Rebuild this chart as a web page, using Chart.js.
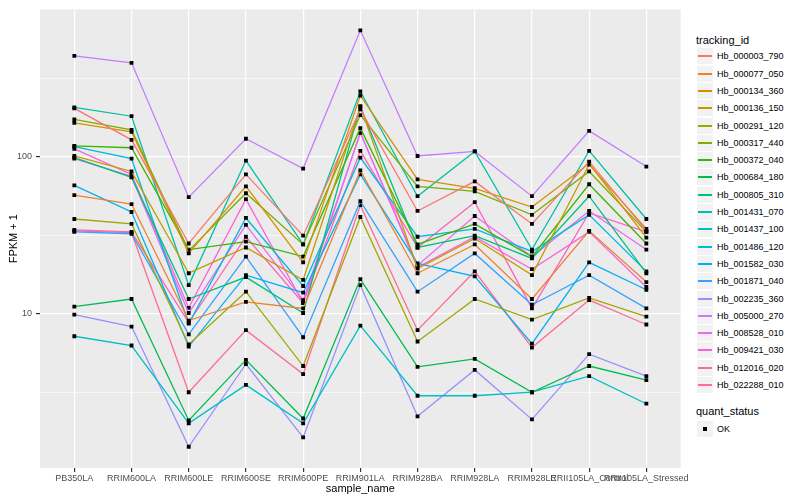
<!DOCTYPE html>
<html>
<head>
<meta charset="utf-8">
<script src="https://cdn.jsdelivr.net/npm/chart.js@4.4.1/dist/chart.umd.min.js"></script>
<style>
  body { margin: 0; background: #fff; font-family: "Liberation Sans", Arial, sans-serif; }
  #wrap { position: relative; width: 800px; height: 500px; }
  #chartBox { position: absolute; left: 0; top: 0; width: 690px; height: 500px; }
  .lg-title { position: absolute; left: 696px; font-size: 11px; color: #000; line-height: 13px; }
  .lg-row { position: absolute; left: 697px; height: 17px; }
  .lg-key { position: absolute; left: 0; top: 0; width: 16px; height: 16px; background: #F2F2F2; }
  .lg-line { position: absolute; left: 1px; top: 7px; width: 14px; height: 2px; }
  .lg-dot { position: absolute; left: 6px; top: 6px; width: 4px; height: 4px; background: #000; }
  .lg-text { position: absolute; left: 20px; top: 2px; font-size: 9px; line-height: 12px; color: #000; white-space: nowrap; }
</style>
</head>
<body>
<div id="wrap">
  <div id="chartBox"><canvas id="chart" width="690" height="500"></canvas></div>
  <div id="legend"></div>
</div>
<script>
const categories = ['PB350LA', 'RRIM600LA', 'RRIM600LE', 'RRIM600SE', 'RRIM600PE', 'RRIM901LA',
  'RRIM928BA', 'RRIM928LA', 'RRIM928LE', 'RRII105LA_Control', 'RRII105LA_Stressed'];

const seriesNames = ['Hb_000003_790', 'Hb_000077_050', 'Hb_000134_360', 'Hb_000136_150', 'Hb_000291_120',
  'Hb_000317_440', 'Hb_000372_040', 'Hb_000684_180', 'Hb_000805_310', 'Hb_001431_070', 'Hb_001437_100',
  'Hb_001486_120', 'Hb_001582_030', 'Hb_001871_040', 'Hb_002235_360', 'Hb_005000_270', 'Hb_008528_010',
  'Hb_009421_030', 'Hb_012016_020', 'Hb_022288_010'];

const seriesColors = ['#F8766D', '#EA8331', '#D89000', '#C09B00', '#A3A500', '#7CAE00', '#39B600', '#00BB4E',
  '#00BF7D', '#00C1A3', '#00BFC4', '#00BAE0', '#00B0F6', '#35A2FF', '#9590FF', '#C77CFF', '#E76BF3',
  '#FA62DB', '#FF62BC', '#FF6C91'];

// FPKM + 1 per sample
const hb000003_790 = [203, 128, 28.0, 77.1, 31.4, 200, 45.1, 69.6, 37.3, 93.0, 33.7];
const hb000077_050 = [56.9, 49.9, 9.04, 11.9, 10.8, 81.7, 18.1, 27.6, 12.4, 33.7, 15.9];
const hb000134_360 = [164, 144, 24.2, 64.7, 21.2, 245, 71.7, 62.9, 47.8, 90.4, 30.5];
const hb000136_150 = [101, 80.5, 18.1, 26.4, 16.4, 209, 19.4, 30.1, 17.6, 89.1, 34.7];
const hb000291_120 = [40.1, 37.3, 6.36, 13.8, 4.64, 41.3, 6.65, 12.4, 9.17, 12.6, 9.57];
const hb000317_440 = [173, 148, 25.2, 58.5, 27.6, 184, 64.7, 60.2, 42.6, 80.5, 33.2];
const hb000372_040 = [117, 114, 25.6, 28.8, 23.1, 152, 27.6, 37.3, 23.1, 66.7, 28.0];
const hb000684_180 = [11.1, 12.4, 2.09, 5.08, 2.15, 16.6, 4.58, 5.15, 3.16, 4.64, 3.77];
const hb000805_310 = [98.6, 73.8, 12.4, 17.1, 10.1, 209, 26.4, 31.4, 22.5, 56.0, 18.1];
const hb001431_070 = [206, 181, 15.2, 94.4, 27.6, 260, 56.0, 108, 25.6, 109, 40.1];
const hb001437_100 = [7.18, 6.27, 2.00, 3.52, 2.00, 8.40, 3.00, 3.00, 3.16, 4.00, 2.67];
const hb001486_120 = [116, 97.1, 8.65, 40.7, 15.0, 98.6, 30.9, 34.7, 24.9, 42.6, 18.6];
const hb001582_030 = [65.7, 44.4, 6.17, 17.6, 13.6, 77.1, 20.9, 17.3, 6.45, 21.2, 14.2];
const hb001871_040 = [33.2, 32.3, 7.38, 23.1, 7.08, 52.1, 13.8, 24.2, 11.4, 17.6, 10.8];
const hb002235_360 = [9.85, 8.28, 1.42, 4.78, 1.63, 15.2, 2.22, 4.38, 2.12, 5.52, 4.00];
const hb005000_270 = [438, 396, 55.2, 130, 84.0, 638, 101, 108, 56.0, 146, 86.5];
const hb008528_010 = [97.1, 74.9, 10.1, 36.8, 12.2, 142, 20.3, 41.9, 23.1, 45.1, 25.6];
const hb009421_030 = [112, 77.1, 10.9, 53.6, 11.7, 142, 19.7, 30.9, 19.2, 33.2, 14.8];
const hb012016_020 = [34.2, 33.2, 8.77, 30.9, 11.7, 109, 26.4, 51.3, 10.8, 43.8, 33.2];
const hb022288_010 = [33.7, 32.8, 3.16, 7.85, 4.12, 49.1, 7.85, 18.6, 6.08, 12.2, 8.53];

const seriesValues = [hb000003_790, hb000077_050, hb000134_360, hb000136_150, hb000291_120,
  hb000317_440, hb000372_040, hb000684_180, hb000805_310, hb001431_070, hb001437_100,
  hb001486_120, hb001582_030, hb001871_040, hb002235_360, hb005000_270, hb008528_010,
  hb009421_030, hb012016_020, hb022288_010];

const yMajorTicks = [10, 100];
const yMinorTicks = [3.162, 31.62, 316.2];

const panelBackground = {
  id: 'panelBackground',
  beforeDraw(chart) {
    const { ctx, chartArea: a } = chart;
    ctx.save();
    ctx.fillStyle = '#EBEBEB';
    ctx.fillRect(a.left, a.top, a.right - a.left, a.bottom - a.top);
    ctx.restore();
  }
};

const isMajor = c => c.tick && yMajorTicks.includes(c.tick.value);
const font = 'Liberation Sans, Arial, sans-serif';

new Chart(document.getElementById('chart'), {
  type: 'line',
  data: {
    datasets: seriesNames.map((name, i) => ({
      label: name,
      data: seriesValues[i].map((v, j) => ({ x: j, y: v })),
      borderColor: seriesColors[i],
      borderWidth: 1.3,
      pointStyle: 'rect',
      pointRadius: 2.7,
      pointHoverRadius: 2.7,
      pointBorderWidth: 0,
      pointBackgroundColor: '#000',
      tension: 0,
      fill: false
    }))
  },
  options: {
    responsive: false,
    animation: false,
    layout: { padding: { top: 5, right: 7, left: 0, bottom: 0 } },
    plugins: {
      legend: { display: false },
      tooltip: { enabled: false }
    },
    scales: {
      x: {
        type: 'linear',
        min: -0.6,
        max: 10.6,
        afterBuildTicks: axis => { axis.ticks = categories.map((c, i) => ({ value: i })); },
        afterFit: axis => { axis.height = 32; },
        ticks: {
          autoSkip: false,
          maxRotation: 0,
          minRotation: 0,
          padding: 1,
          color: '#4D4D4D',
          font: { size: 9, family: font },
          callback: v => categories[v]
        },
        grid: { color: '#FFFFFF', lineWidth: 1.2, tickColor: '#333333', tickLength: 4 },
        border: { display: false },
        title: {
          display: true,
          text: 'sample_name',
          color: '#000',
          font: { size: 11, family: font },
          padding: { top: 0, bottom: 4 }
        }
      },
      y: {
        type: 'logarithmic',
        min: 1.04,
        max: 867,
        afterBuildTicks: axis => {
          axis.ticks = [...yMinorTicks, ...yMajorTicks].sort((a, b) => a - b).map(v => ({ value: v }));
        },
        afterFit: axis => { axis.width = 40; },
        ticks: {
          padding: 4,
          color: '#4D4D4D',
          font: { size: 9, family: font },
          callback: v => yMajorTicks.includes(v) ? String(v) : ''
        },
        grid: {
          color: '#FFFFFF',
          lineWidth: c => isMajor(c) ? 1.2 : 0.6,
          tickColor: c => isMajor(c) ? '#333333' : 'rgba(0,0,0,0)',
          tickLength: 4
        },
        border: { display: false },
        title: {
          display: true,
          text: 'FPKM + 1',
          color: '#000',
          font: { size: 11, family: font },
          padding: { top: 7, bottom: 0 }
        }
      }
    }
  },
  plugins: [panelBackground]
});

// legend, laid out like the ggplot guide
const legend = document.getElementById('legend');
function addTitle(text, top) {
  const t = document.createElement('div');
  t.className = 'lg-title';
  t.style.top = top + 'px';
  t.textContent = text;
  legend.appendChild(t);
}
addTitle('tracking_id', 34);
seriesNames.forEach((name, i) => {
  const row = document.createElement('div');
  row.className = 'lg-row';
  row.style.top = Math.round(48.3 + i * 17.3) + 'px';
  row.innerHTML = '<div class="lg-key"><div class="lg-line" style="background:' + seriesColors[i] +
    '"></div></div><div class="lg-text">' + name + '</div>';
  legend.appendChild(row);
});
addTitle('quant_status', 405);
const ok = document.createElement('div');
ok.className = 'lg-row';
ok.style.top = '421px';
ok.innerHTML = '<div class="lg-key"><div class="lg-dot"></div></div><div class="lg-text">OK</div>';
legend.appendChild(ok);
</script>
</body>
</html>
